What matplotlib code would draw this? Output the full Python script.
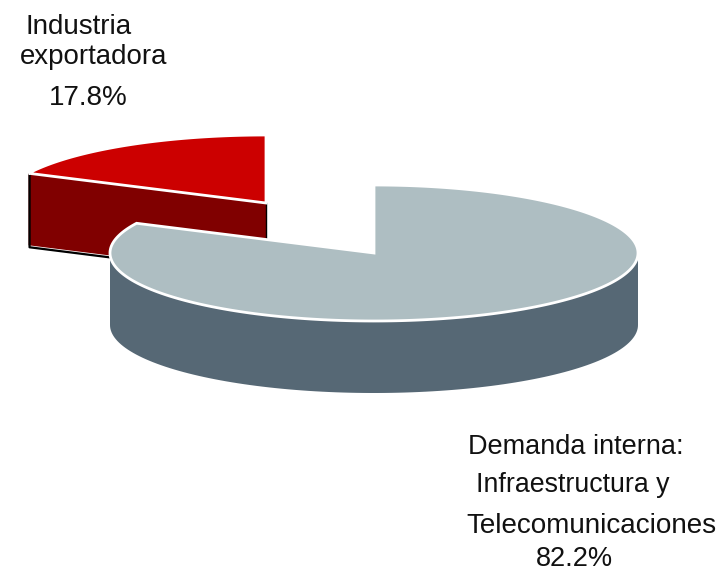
import numpy as np
import matplotlib
matplotlib.use("Agg")
import matplotlib.pyplot as plt
from matplotlib.patches import Polygon

plt.rcParams["font.family"] = ["Liberation Sans", "DejaVu Sans"]

# Data
sectors = ["Industria exportadora", "Demanda interna"]
shares = [17.8, 82.2]

# Pie geometry, in picture pixels
RX, RY = 264, 68
DEPTH = 72
CENTER_MAIN = (374, 253)
CENTER_RED = (266, 203)
START_ANGLE = 90.0

TOP_COLORS = ["#cc0000", "#aebec2"]
SIDE_COLORS = ["#800000", "#566875"]


def arc(center, a0, a1, n=120):
    t = np.radians(np.linspace(a0, a1, n))
    return np.column_stack([center[0] + RX * np.cos(t), center[1] - RY * np.sin(t)])


fig = plt.figure(figsize=(7.23, 5.72), dpi=100)
ax = fig.add_axes([0, 0, 1, 1])
ax.set_xlim(0, 723)
ax.set_ylim(572, 0)
ax.axis("off")

sweep = [s / sum(shares) * 360 for s in shares]
red_end = START_ANGLE + sweep[0]
main_end = red_end + sweep[1]

# Exploded slice: inner cut face, then its top
cx, cy = CENTER_RED
left = arc(CENTER_RED, red_end, red_end, 1)[0]
face = [(cx, cy), tuple(left), (left[0], left[1] + DEPTH), (cx, cy + DEPTH)]
ax.add_patch(Polygon(face, closed=True, fc=SIDE_COLORS[0], ec="none", zorder=1))
ax.plot([cx, cx], [cy, cy + DEPTH], color="black", lw=1.0, zorder=1.1)
ax.plot([left[0] + 1, left[0] + 1, cx], [left[1], left[1] + DEPTH + 2, cy + DEPTH + 2],
        color="black", lw=1.6, zorder=1.1)
red_top = np.vstack([[cx, cy], arc(CENTER_RED, START_ANGLE, red_end)])
ax.add_patch(Polygon(red_top, closed=True, fc=TOP_COLORS[0], ec="white", lw=2.0, zorder=2))

# Main slice: outer wall, then its top
mx, my = CENTER_MAIN
rim = arc(CENTER_MAIN, 180, 360)
wall = np.vstack([rim, rim[::-1] + [0, DEPTH]])
ax.add_patch(Polygon(wall, closed=True, fc=SIDE_COLORS[1], ec="none", zorder=3))
main_top = np.vstack([[mx, my], arc(CENTER_MAIN, red_end, main_end, 300)])
ax.add_patch(Polygon(main_top, closed=True, fc=TOP_COLORS[1], ec="white", lw=2.0, zorder=4))

# Labels
fs = 19.5
ax.text(26, 27, "Industria", fontsize=fs + 0.5, ha="left", va="center", color="#111111")
ax.text(20, 57, "exportadora", fontsize=fs + 0.4, ha="left", va="center", color="#111111")
ax.text(49, 98, f"{shares[0]}%", fontsize=fs + 0.5, ha="left", va="center", color="#111111")
ax.text(468, 447, "Demanda interna:", fontsize=fs, ha="left", va="center", color="#111111")
ax.text(476, 485, "Infraestructura y", fontsize=fs - 0.2, ha="left", va="center", color="#111111")
ax.text(466, 526, "Telecomunicaciones", fontsize=fs + 0.6, ha="left", va="center", color="#111111")
ax.text(536, 559, f"{shares[1]}%", fontsize=fs, ha="left", va="center", color="#111111")

fig.savefig("out.png", dpi=100)
